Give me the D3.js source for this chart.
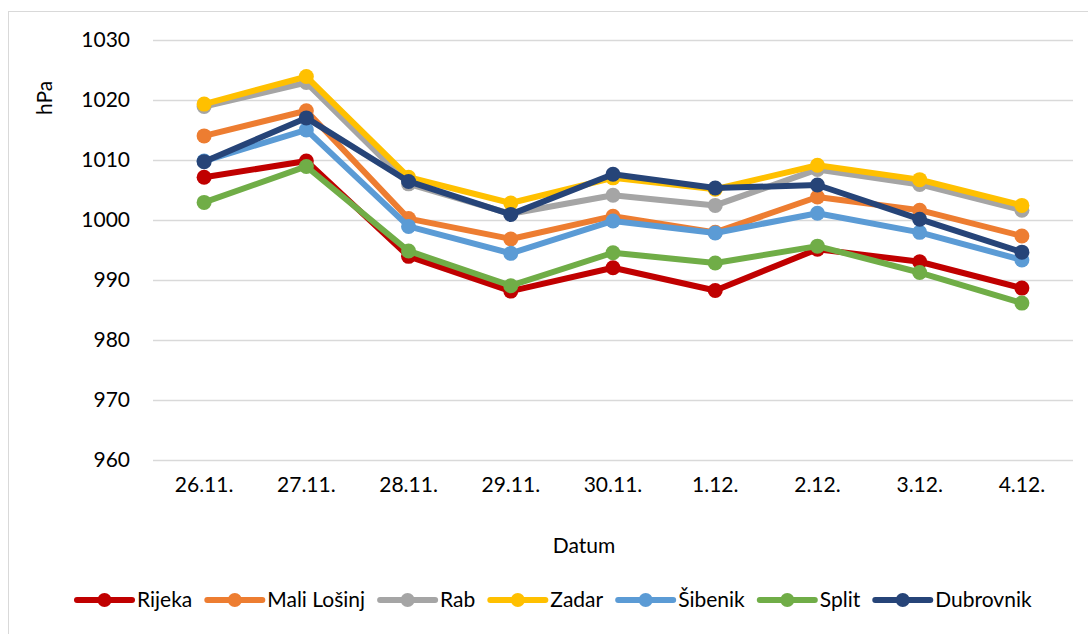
<!DOCTYPE html>
<html>
<head>
<meta charset="utf-8">
<script src="https://cdn.jsdelivr.net/npm/d3@7"></script>
<style>
  html, body { margin: 0; padding: 0; background: #fff; }
  svg { display: block; font-family: Lato, "Noto Sans", sans-serif; }
</style>
</head>
<body>
<svg id="chart" width="1088" height="634"></svg>
<script>
const categories = ["26.11.", "27.11.", "28.11.", "29.11.", "30.11.", "1.12.", "2.12.", "3.12.", "4.12."];
const yTicks = [960, 970, 980, 990, 1000, 1010, 1020, 1030];
const seriesNames = ["Rijeka", "Mali Lošinj", "Rab", "Zadar", "Šibenik", "Split", "Dubrovnik"];
const seriesColors = ["#C00000", "#ED7D31", "#A5A5A5", "#FFC000", "#5B9BD5", "#70AD47", "#264478"];
const rijeka     = [1007.1, 1009.8, 993.9, 988.1, 992.0, 988.2, 995.1, 993.0, 988.6];
const maliLosinj = [1014.0, 1018.2, 1000.2, 996.8, 1000.6, 997.9, 1003.8, 1001.6, 997.3];
const rab        = [1018.9, 1022.9, 1006.0, 1001.0, 1004.1, 1002.4, 1008.4, 1005.9, 1001.6];
const zadar      = [1019.3, 1023.9, 1007.1, 1002.8, 1007.0, 1005.1, 1009.1, 1006.7, 1002.4];
const sibenik    = [1009.8, 1015.0, 998.9, 994.4, 999.8, 997.8, 1001.1, 997.9, 993.3];
const split      = [1002.9, 1008.9, 994.8, 989.0, 994.5, 992.8, 995.6, 991.2, 986.1];
const dubrovnik  = [1009.7, 1017.0, 1006.4, 1000.9, 1007.6, 1005.3, 1005.8, 1000.1, 994.6];
const seriesValues = [rijeka, maliLosinj, rab, zadar, sibenik, split, dubrovnik];

const svg = d3.select("#chart");
const FS = 21;

// outer frame
svg.append("rect").attr("x", 8.5).attr("y", 11.5).attr("width", 1200).attr("height", 700)
  .attr("fill", "none").attr("stroke", "#d9d9d9").attr("stroke-width", 1);

const plotLeft = 153, plotRight = 1073;
const x = d3.scaleBand().domain(categories).range([plotLeft, plotRight]);
const y = d3.scaleLinear().domain([960, 1030]).range([459.5, 40]);

// gridlines
svg.append("g").selectAll("line").data(yTicks).join("line")
  .attr("x1", plotLeft).attr("x2", plotRight)
  .attr("y1", d => Math.round(y(d)) + 0.5).attr("y2", d => Math.round(y(d)) + 0.5)
  .attr("stroke", "#d9d9d9").attr("stroke-width", 1.5);

// y axis labels
const yAxis = d3.axisLeft(y).tickValues(yTicks).tickSize(0).tickPadding(0).tickFormat(d3.format("d"));
const gy = svg.append("g").attr("transform", "translate(130,0)").call(yAxis);
gy.select(".domain").remove();
gy.selectAll("text").attr("font-size", FS).attr("fill", "#000").attr("font-family", "Lato, sans-serif");

// x axis labels
const xAxis = d3.axisBottom(x).tickSize(0).tickPadding(0);
const gx = svg.append("g").attr("transform", "translate(0,480)").call(xAxis);
gx.select(".domain").remove();
gx.selectAll("text").attr("font-size", FS).attr("fill", "#000").attr("font-family", "Lato, sans-serif")
  .attr("dy", "0.55em");

// axis titles
svg.append("text").attr("x", 584).attr("y", 553).attr("text-anchor", "middle")
  .attr("font-size", FS).attr("fill", "#000").text("Datum");
svg.append("text").attr("transform", "translate(52,98) rotate(-90)").attr("text-anchor", "middle")
  .attr("font-size", FS).attr("fill", "#000").text("hPa");

// series
const line = d3.line().x((d, i) => x(categories[i]) + x.bandwidth() / 2).y(d => y(d));
seriesValues.forEach((vals, si) => {
  const g = svg.append("g");
  g.append("path").datum(vals).attr("d", line).attr("fill", "none")
    .attr("stroke", seriesColors[si]).attr("stroke-width", 6).attr("stroke-linejoin", "round")
    .attr("stroke-linecap", "round");
  g.selectAll("circle").data(vals).join("circle")
    .attr("cx", (d, i) => x(categories[i]) + x.bandwidth() / 2)
    .attr("cy", d => y(d)).attr("r", 7.5).attr("fill", seriesColors[si]);
});

// legend
const legend = svg.append("g");
let lx = 77;
const ly = 600;
seriesNames.forEach((name, i) => {
  const item = legend.append("g");
  item.append("line").attr("x1", lx).attr("x2", lx + 55).attr("y1", ly).attr("y2", ly)
    .attr("stroke", seriesColors[i]).attr("stroke-width", 6).attr("stroke-linecap", "round");
  item.append("circle").attr("cx", lx + 27.5).attr("cy", ly).attr("r", 7).attr("fill", seriesColors[i]);
  const t = item.append("text").attr("x", lx + 60).attr("y", ly).attr("dy", "0.35em")
    .attr("font-size", FS).attr("fill", "#000").text(name);
  lx = lx + 60 + t.node().getComputedTextLength() + 15;
});
</script>
</body>
</html>
